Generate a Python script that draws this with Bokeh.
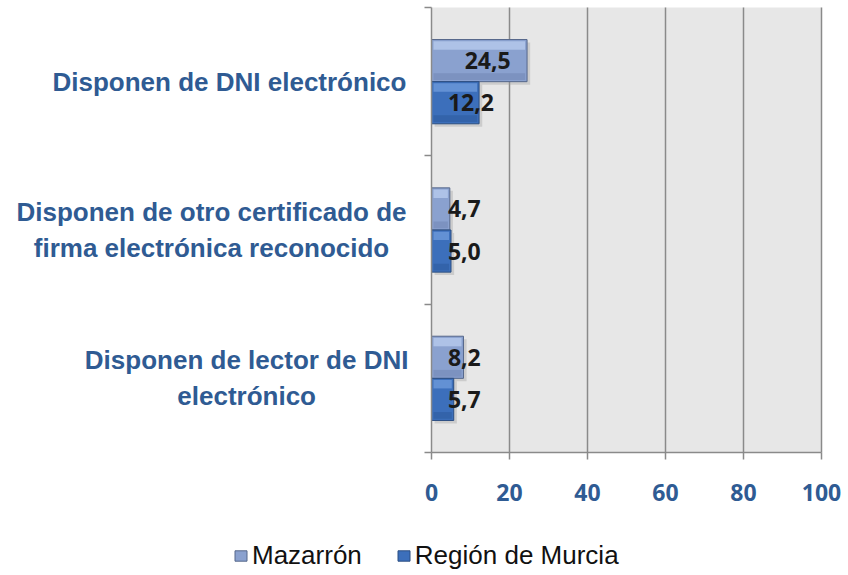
from bokeh.plotting import figure
from bokeh.models import Legend, LegendItem, FixedTicker, Range1d, ColumnDataSource
from bokeh.core.properties import value
from bokeh.embed import file_html
from bokeh.resources import INLINE

# ---- data ----
categories = [
    "Disponen de lector de DNI\nelectrónico",
    "Disponen de otro certificado de\nfirma electrónica reconocido",
    "Disponen de DNI electrónico",
]
mazarron = [8.2, 4.7, 24.5]
region = [5.7, 5.0, 12.2]
series_names = ["Mazarrón", "Región de Murcia"]
x_ticks = [0, 20, 40, 60, 80, 100]

# ---- layout / style ----
W, H = 848, 575
PX_X = 3.9            # pixels per x unit
PX_Y = 445 / 3        # pixels per category band
LEFT_PX, RIGHT_PX, TOP_PX, BOTTOM_PX = 431, 27, 7, 123   # room around the plot area
label_centers = [-47.4, -56.4, -51.8]   # x (data units) of the category label blocks
BAR_H = 0.284
OFF = 0.142
BLUE_TXT = "#2F5B93"
GRID = "#8A8A8A"

ys = list(range(len(categories)))
maz_y = [y + OFF for y in ys]
reg_y = [y - OFF for y in ys]
y_lo, y_hi = -0.5, len(categories) - 0.5

p = figure(width=W, height=H, output_backend="svg", toolbar_location=None,
           x_range=Range1d(x_ticks[0] - LEFT_PX / PX_X, x_ticks[-1] + RIGHT_PX / PX_X),
           y_range=Range1d(y_lo - BOTTOM_PX / PX_Y, y_hi + TOP_PX / PX_Y),
           min_border=0)
p.background_fill_color = "white"
p.border_fill_color = "white"
p.outline_line_color = None
p.xgrid.visible = False
p.ygrid.visible = False

# plot-area background and vertical grid lines
p.quad(left=[x_ticks[0]], right=[x_ticks[-1]], bottom=[y_lo], top=[y_hi],
       fill_color="#E7E7E7", line_color=None, level="image")
p.segment(x0=x_ticks[1:], y0=y_lo, x1=x_ticks[1:], y1=y_hi,
          line_color=GRID, line_width=1.5, level="underlay")

# shadows
p.hbar(y=[y - 0.02 for y in maz_y], left=0.8, right=[v + 0.8 for v in mazarron], height=BAR_H,
       fill_color="#9a9a9a", fill_alpha=0.35, line_color=None)
p.hbar(y=[y - 0.02 for y in reg_y], left=0.8, right=[v + 0.8 for v in region], height=BAR_H,
       fill_color="#9a9a9a", fill_alpha=0.35, line_color=None)

# main bars
r_maz = p.hbar(y=maz_y, left=0, right=mazarron, height=BAR_H,
               fill_color="#8AA1CF", line_color="#55678A", line_width=1)
r_reg = p.hbar(y=reg_y, left=0, right=region, height=BAR_H,
               fill_color="#3C6FBB", line_color="#2B4E82", line_width=1)

# bevel highlights (top) and darker bottom band
p.hbar(y=[y + BAR_H * 0.36 for y in maz_y], left=0.5, right=[v - 0.5 for v in mazarron],
       height=BAR_H * 0.2, fill_color="#B7CAEC", fill_alpha=0.8, line_color=None)
p.hbar(y=[y - BAR_H * 0.38 for y in maz_y], left=0.5, right=[v - 0.5 for v in mazarron],
       height=BAR_H * 0.16, fill_color="#6E84B2", fill_alpha=0.5, line_color=None)
p.hbar(y=[y + BAR_H * 0.36 for y in reg_y], left=0.5, right=[v - 0.5 for v in region],
       height=BAR_H * 0.2, fill_color="#6D9ADB", fill_alpha=0.8, line_color=None)
p.hbar(y=[y - BAR_H * 0.38 for y in reg_y], left=0.5, right=[v - 0.5 for v in region],
       height=BAR_H * 0.16, fill_color="#2A589A", fill_alpha=0.5, line_color=None)

# value labels
def fmt(v):
    return f"{v:.1f}".replace(".", ",")

lab_src = ColumnDataSource(dict(
    x=[max(4.2, v - 16) for v in mazarron] + [max(4.2, v - 16) for v in region],
    y=maz_y + reg_y,
    t=[fmt(v) for v in mazarron] + [fmt(v) for v in region],
))
p.text(x="x", y="y", text="t", source=lab_src, text_align="left", text_baseline="middle",
       text_font=value("Open Sans"), text_font_style="bold", text_font_size="23px",
       text_color="#1A1A1A")

# category labels
cat_src = ColumnDataSource(dict(x=label_centers, y=ys, t=categories))
p.text(x="x", y="y", text="t", source=cat_src, text_align="center", text_baseline="middle",
       text_font=value("Liberation Sans"), text_font_style="bold", text_font_size="26px",
       text_color=BLUE_TXT, text_line_height=1.2)

# axes
p.xaxis.fixed_location = y_lo
p.xaxis.ticker = FixedTicker(ticks=x_ticks)
p.xaxis.bounds = (x_ticks[0], x_ticks[-1])
p.xaxis.axis_line_color = GRID
p.xaxis.axis_line_width = 1.5
p.xaxis.major_tick_line_color = GRID
p.xaxis.major_tick_line_width = 1.5
p.xaxis.major_tick_out = 7
p.xaxis.major_tick_in = 0
p.xaxis.minor_tick_line_color = None
p.xaxis.major_label_standoff = 24
p.xaxis.major_label_text_font = "Open Sans"
p.xaxis.major_label_text_font_style = "bold"
p.xaxis.major_label_text_font_size = "23px"
p.xaxis.major_label_text_color = BLUE_TXT

yt = [y_lo + i for i in range(len(categories) + 1)]
p.yaxis.fixed_location = x_ticks[0]
p.yaxis.ticker = FixedTicker(ticks=yt)
p.yaxis.bounds = (y_lo, y_hi)
p.yaxis.major_label_overrides = {t: "" for t in yt}
p.yaxis.axis_line_color = GRID
p.yaxis.axis_line_width = 1.5
p.yaxis.major_tick_line_color = GRID
p.yaxis.major_tick_line_width = 1.5
p.yaxis.major_tick_out = 7
p.yaxis.major_tick_in = 0
p.yaxis.minor_tick_line_color = None

legend = Legend(items=[LegendItem(label=series_names[0], renderers=[r_maz]),
                       LegendItem(label=series_names[1], renderers=[r_reg])],
                orientation="horizontal", location=(233, 4),
                padding=0, margin=0, spacing=34, label_standoff=4,
                glyph_width=15, glyph_height=13,
                label_text_font="Liberation Sans", label_text_font_size="26px",
                label_text_color="#111111",
                background_fill_alpha=0, border_line_alpha=0)
p.add_layout(legend)

open("out.html", "w").write(file_html(p, INLINE))
